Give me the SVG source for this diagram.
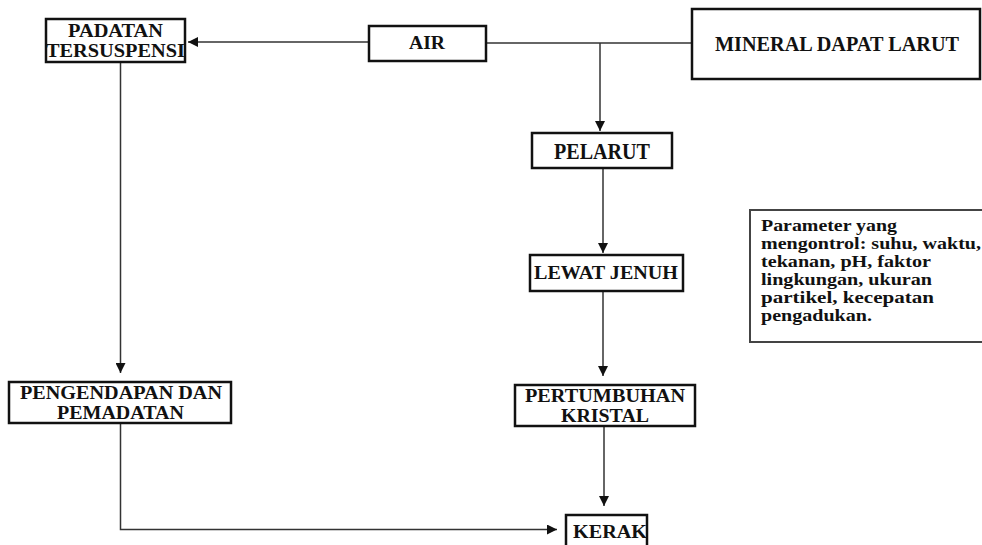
<svg xmlns="http://www.w3.org/2000/svg" width="982" height="545" viewBox="0 0 982 545">
<defs>
<style>
.box{fill:#fff;stroke:#111;stroke-width:2.5}
.pbox{fill:#fff;stroke:#444;stroke-width:2}
.t{font-family:"Liberation Serif","Times New Roman",serif;font-weight:bold;fill:#111}
.c{text-anchor:middle}
.ln{fill:none;stroke:#333;stroke-width:1.5}
.p{font-size:16.5px}
</style>
<marker id="ah" viewBox="0 0 10 10" refX="10" refY="5" markerWidth="10" markerHeight="10" markerUnits="userSpaceOnUse" orient="auto">
<path d="M0,0 L10,5 L0,10 Z" fill="#111"/>
</marker>
</defs>
<rect width="982" height="545" fill="#fff"/>
<g id="connectors">
<line class="ln" x1="369" y1="42" x2="188" y2="42" marker-end="url(#ah)"/>
<line class="ln" x1="486" y1="43" x2="692" y2="43"/>
<line class="ln" x1="600" y1="43" x2="600" y2="131" marker-end="url(#ah)"/>
<line class="ln" x1="603" y1="168" x2="603" y2="253" marker-end="url(#ah)"/>
<line class="ln" x1="603" y1="291" x2="603" y2="376" marker-end="url(#ah)"/>
<line class="ln" x1="604" y1="426" x2="604" y2="506" marker-end="url(#ah)"/>
<line class="ln" x1="120.5" y1="63" x2="120.5" y2="373" marker-end="url(#ah)"/>
<polyline class="ln" points="120.5,423 120.5,529.5 557,529.5" marker-end="url(#ah)"/>
</g>
<g id="padatan">
<rect class="box" x="46" y="19" width="139" height="43"/>
<text class="t c" x="115.5" y="37" font-size="19" textLength="95" lengthAdjust="spacingAndGlyphs">PADATAN</text>
<text class="t c" x="115.5" y="57" font-size="19" textLength="139" lengthAdjust="spacingAndGlyphs">TERSUSPENSI</text>
</g>
<g id="air">
<rect class="box" x="369" y="26" width="117" height="35"/>
<text class="t c" x="427" y="49" font-size="19" textLength="36" lengthAdjust="spacingAndGlyphs">AIR</text>
</g>
<g id="mineral">
<rect class="box" x="692" y="9" width="288" height="70"/>
<text class="t" x="715" y="51" font-size="20" textLength="244" lengthAdjust="spacingAndGlyphs">MINERAL DAPAT LARUT</text>
</g>
<g id="pelarut">
<rect class="box" x="532" y="133" width="140" height="35"/>
<text class="t" x="554" y="159" font-size="23" textLength="96" lengthAdjust="spacingAndGlyphs">PELARUT</text>
</g>
<g id="lewat">
<rect class="box" x="530" y="255" width="153" height="36"/>
<text class="t" x="534" y="279" font-size="19" textLength="144" lengthAdjust="spacingAndGlyphs">LEWAT JENUH</text>
</g>
<g id="pertumbuhan">
<rect class="box" x="515" y="385" width="180" height="41"/>
<text class="t" x="525" y="402" font-size="18" textLength="160" lengthAdjust="spacingAndGlyphs">PERTUMBUHAN</text>
<text class="t" x="561" y="422" font-size="18" textLength="88" lengthAdjust="spacingAndGlyphs">KRISTAL</text>
</g>
<g id="kerak">
<rect class="box" x="566" y="515" width="81" height="40"/>
<text class="t" x="573" y="538" font-size="19" textLength="74" lengthAdjust="spacingAndGlyphs">KERAK</text>
</g>
<g id="pengendapan">
<rect class="box" x="9" y="382" width="222" height="41"/>
<text class="t" x="20" y="399" font-size="18" textLength="202" lengthAdjust="spacingAndGlyphs">PENGENDAPAN DAN</text>
<text class="t" x="57" y="419" font-size="18" textLength="127" lengthAdjust="spacingAndGlyphs">PEMADATAN</text>
</g>
<g id="parameter">
<rect class="pbox" x="750" y="210" width="240" height="132"/>
<text class="t p" x="761" y="231" textLength="136" lengthAdjust="spacingAndGlyphs">Parameter yang</text>
<text class="t p" x="761" y="249" textLength="220" lengthAdjust="spacingAndGlyphs">mengontrol: suhu, waktu,</text>
<text class="t p" x="761" y="267" textLength="170" lengthAdjust="spacingAndGlyphs">tekanan, pH, faktor</text>
<text class="t p" x="761" y="285" textLength="171" lengthAdjust="spacingAndGlyphs">lingkungan, ukuran</text>
<text class="t p" x="761" y="303" textLength="173" lengthAdjust="spacingAndGlyphs">partikel, kecepatan</text>
<text class="t p" x="761" y="321" textLength="111" lengthAdjust="spacingAndGlyphs">pengadukan.</text>
</g>
</svg>
